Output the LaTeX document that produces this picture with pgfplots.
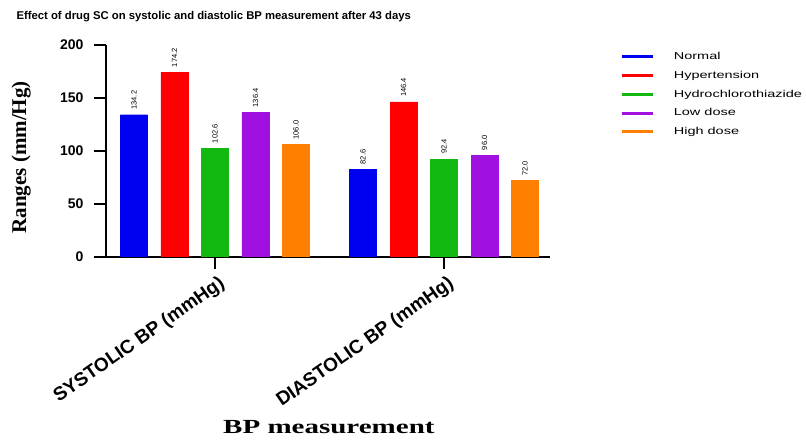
\documentclass[border=0pt]{standalone}
\usepackage{pgfplots}
\pgfplotsset{compat=1.18}
\usepackage{fontspec}
\setmainfont{Liberation Sans}
\newfontfamily\serifb{Liberation Serif}
\definecolor{cBlue}{HTML}{0000F0}
\definecolor{cRed}{HTML}{FF0000}
\definecolor{cGreen}{HTML}{10B810}
\definecolor{cPurple}{HTML}{A010E0}
\definecolor{cOrange}{HTML}{FF8000}
\newcommand{\sx}[2]{\scalebox{#1}[1]{#2}}
\begin{document}
\begin{tikzpicture}
\path[use as bounding box] (0,0) rectangle (806bp,441bp);
\node[anchor=west,font=\bfseries\fontsize{11.3bp}{13bp}\selectfont] at (13bp,424bp) {Effect of drug SC on systolic and diastolic BP measurement after 43 days};
\begin{axis}[
  at={(106bp,184bp)}, anchor=south west,
  scale only axis, width=444bp, height=212bp,
  ybar, bar shift=0pt, bar width=27bp,
  xmin=-0.69, xmax=10.27, ymin=0, ymax=200,
  axis x line*=bottom, axis y line*=left,
  axis line style={line width=1.8bp, -},
  xtick={2,7.654}, xticklabels={SYSTOLIC BP (mmHg),DIASTOLIC BP (mmHg)},
  ytick={0,50,100,150,200},
  tick style={line width=1.8bp, black},
  xtick align=outside, ytick align=outside,
  major tick length=12bp,
  yticklabel style={font=\bfseries\fontsize{14bp}{16bp}\selectfont, xshift=-7bp},
  /pgf/number format/assume math mode=true,
  xticklabel style={font=\bfseries\fontsize{19bp}{20bp}\selectfont, rotate=35, anchor=north east, inner sep=1bp, yshift=-5bp},
  xlabel={\sx{1.45}{BP measurement}},
  ylabel={Ranges (mm/Hg)},
  every axis x label/.style={at={(rel axis cs:0.502,-0.80)}, anchor=center, font=\serifb\bfseries\fontsize{20bp}{22bp}\selectfont},
  every axis y label/.style={at={(rel axis cs:-0.191,0.47)}, rotate=90, anchor=center, font=\serifb\bfseries\fontsize{21bp}{23bp}\selectfont},
  nodes near coords,
  nodes near coords style={rotate=90, anchor=west, inner xsep=5bp, inner ysep=0bp, font=\fontsize{7.5bp}{8bp}\selectfont, /pgf/number format/.cd, fixed, fixed zerofill, precision=1},
  legend style={at={(rel axis cs:1.158,0.975)}, anchor=north west, draw=none, fill=none, font=\fontsize{10bp}{12bp}\selectfont, row sep=6bp, legend cell align=left, inner sep=0pt},
  legend image code/.code={\draw[line width=3bp] (0bp,0bp) -- (31bp,0bp); \path[draw=none,fill=none] (0bp,0bp) -- (50bp,0bp);},
]
\addplot[draw=cBlue, fill=cBlue] coordinates {(0,134.2) (5.654,82.6)};
\addplot[draw=cRed, fill=cRed] coordinates {(1,174.2) (6.654,146.4)};
\addplot[draw=cGreen, fill=cGreen] coordinates {(2,102.6) (7.654,92.4)};
\addplot[draw=cPurple, fill=cPurple] coordinates {(3,136.4) (8.654,96.0)};
\addplot[draw=cOrange, fill=cOrange] coordinates {(4,106.0) (9.654,72.0)};
\legend{\sx{1.45}{Normal},\sx{1.45}{Hypertension},\sx{1.45}{Hydrochlorothiazide},\sx{1.45}{Low dose},\sx{1.45}{High dose}}
\end{axis}
\end{tikzpicture}
\end{document}
